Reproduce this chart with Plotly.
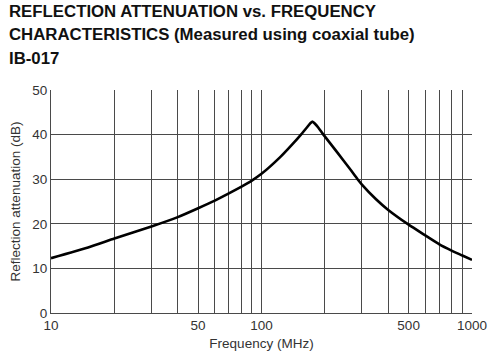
import plotly.graph_objects as go

# Data
freq_mhz = [10, 15, 20, 30, 40, 50, 60, 70, 80, 90, 100, 123, 140, 154, 165, 171, 175, 179,
            186, 196, 230, 265, 286, 300, 350, 400, 500, 600, 700, 800, 900, 1000]
attenuation_db = [12.3, 14.7, 16.7, 19.4, 21.5, 23.5, 25.2, 26.8, 28.3, 29.7, 31.2, 35.0, 37.8,
                  40.0, 41.7, 42.6, 42.9, 42.5, 41.6, 40.1, 35.9, 32.1, 30.0, 28.8, 25.5, 23.1,
                  19.8, 17.4, 15.4, 14.0, 12.9, 11.9]

x_grid_vals = [10, 20, 30, 40, 50, 60, 70, 80, 90, 100, 200, 300, 400, 500, 600, 700, 800, 900, 1000]
x_labels = {10: "10", 50: "50", 100: "100", 500: "500", 1000: "1000"}
y_ticks = [0, 10, 20, 30, 40, 50]

title_lines = ["REFLECTION ATTENUATION vs. FREQUENCY",
               "CHARACTERISTICS (Measured using coaxial tube)",
               "IB-017"]

font_family = "Liberation Sans, Arial, Helvetica, sans-serif"

fig = go.Figure()
fig.add_trace(go.Scatter(
    x=freq_mhz, y=attenuation_db, mode="lines",
    line=dict(color="#000000", width=2.6, shape="spline", smoothing=0.5),
    hoverinfo="skip", showlegend=False,
))

fig.update_layout(
    width=500, height=355,
    margin=dict(l=51, r=28, t=90, b=42, autoexpand=False),
    paper_bgcolor="white", plot_bgcolor="white",
    font=dict(family=font_family, size=13, color="#333333"),
    showlegend=False,
)

fig.update_xaxes(
    type="log", range=[1, 3], automargin=False,
    tickmode="array", tickvals=x_grid_vals,
    ticktext=[x_labels.get(v, "") for v in x_grid_vals],
    showgrid=True, gridcolor="#4a4a4a", gridwidth=1,
    showline=True, linecolor="#4a4a4a", linewidth=1, mirror=False,
    ticks="", ticklen=0, zeroline=False,
    tickfont=dict(size=13.5, color="#333333"),
    title=dict(text="Frequency (MHz)", font=dict(size=13.5, color="#333333"), standoff=6),
)
fig.update_yaxes(
    range=[0, 50], automargin=False,
    tickmode="array", tickvals=y_ticks,
    showgrid=True, gridcolor="#4a4a4a", gridwidth=1,
    showline=True, linecolor="#4a4a4a", linewidth=1,
    ticks="", zeroline=False,
    tickfont=dict(size=13.5, color="#333333"),
    title=dict(text="Reflection attenuation (dB)", font=dict(size=13.5, color="#333333"), standoff=8),
)

title_y = [12, 35, 58]
for txt, yy in zip(title_lines, title_y):
    fig.add_annotation(
        text="<b>" + txt + "</b>", xref="paper", yref="paper",
        x=(7 - 51) / 421, y=1 + (90 - yy) / 223,
        xanchor="left", yanchor="middle", showarrow=False,
        font=dict(family=font_family, size=16.8, color="#111111"),
    )

fig.write_html("out.html", config={"displayModeBar": False},
               post_script="document.body.style.margin='0';document.body.style.padding='0';")
